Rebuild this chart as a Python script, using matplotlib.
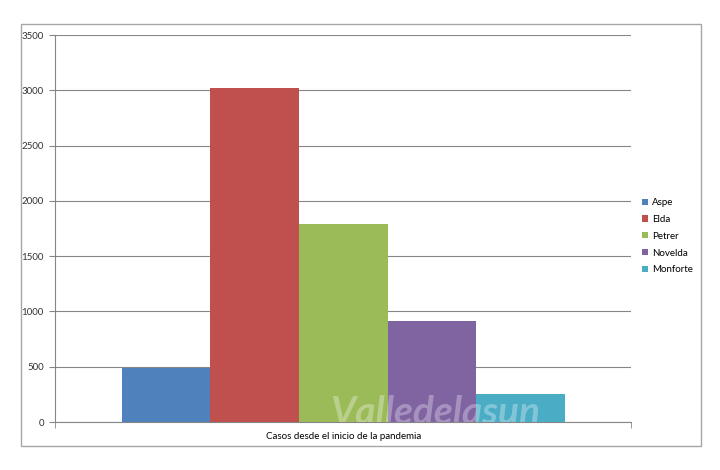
import matplotlib.pyplot as plt
from matplotlib.patches import Rectangle

# datos
municipios = ["Aspe", "Elda", "Petrer", "Novelda", "Monforte"]
casos = [490, 3020, 1790, 915, 252]
colores = ["#4F81BD", "#C0504D", "#9BBB59", "#8064A2", "#4BACC6"]
categoria = "Casos desde el inicio de la pandemia"

plt.rcParams['font.family'] = ['Lato', 'DejaVu Sans']

fig = plt.figure(figsize=(7.2, 4.7), dpi=100)
ax = fig.add_axes([0.0764, 0.102, 0.7997, 0.8235])

# marco exterior
fig.patches.append(Rectangle((21 / 720, 24 / 470), 680 / 720, 422 / 470,
                             transform=fig.transFigure, fill=False,
                             edgecolor="#a6a6a6", linewidth=1))

for i, (m, v, c) in enumerate(zip(municipios, casos, colores)):
    ax.bar(i, v, width=1.0, color=c, label=m, zorder=3)

ax.set_ylim(0, 3500)
ax.set_yticks(range(0, 3501, 500))
ax.set_xlim(-1.255, 5.245)
ax.set_xticks([2])
ax.set_xticklabels([categoria], fontsize=7)
ax.set_xticks([-1.255, 5.245], minor=True)
ax.tick_params(axis='x', which='major', length=0, pad=7)
ax.tick_params(axis='x', which='minor', length=4, color="#868686")
ax.tick_params(axis='y', length=4, color="#868686", labelsize=7, pad=4,
               labelcolor="#333333")

ax.grid(axis='y', color="#868686", linewidth=0.8, zorder=0)
for s in ['top', 'right']:
    ax.spines[s].set_visible(False)
for s in ['left', 'bottom']:
    ax.spines[s].set_color("#868686")
    ax.spines[s].set_linewidth(0.8)

# marca de agua (blanca, solo visible sobre las barras)
ax.text(1.85, -70, "Valledelasun", fontsize=28, fontweight='bold', style='italic',
        color='white', alpha=0.3, ha='left', va='bottom', zorder=4, clip_on=True)

ax.legend(loc='center left', bbox_to_anchor=(1.005, 0.48), frameon=False,
          fontsize=7, handlelength=0.6, handleheight=0.6, handletextpad=0.4,
          labelspacing=0.8)

fig.savefig("out.png", dpi=100)
